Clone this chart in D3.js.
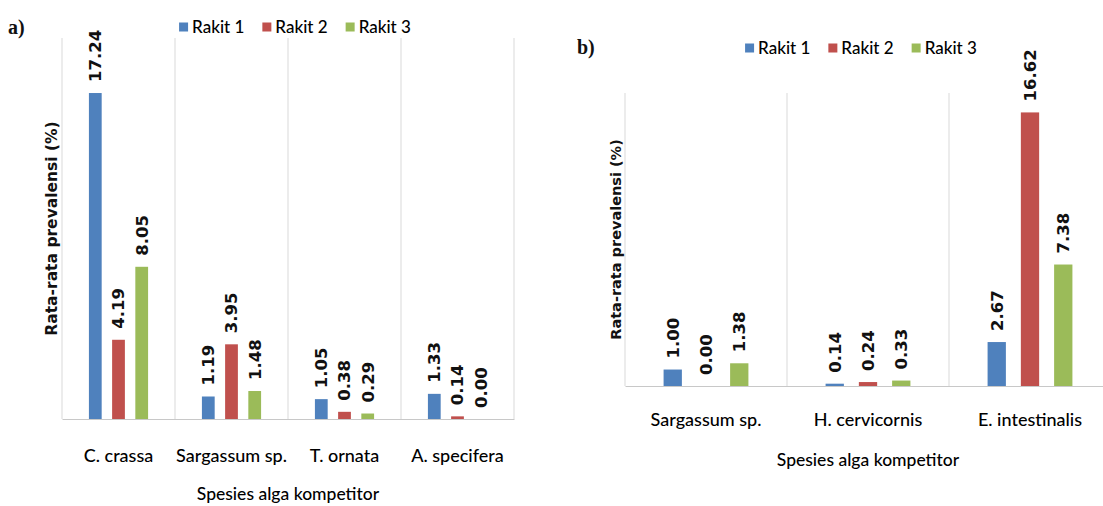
<!DOCTYPE html>
<html>
<head>
<meta charset="utf-8">
<script src="https://cdn.jsdelivr.net/npm/d3@7"></script>
<style>
  html, body { margin: 0; padding: 0; background: #ffffff; }
  svg { display: block; }
</style>
</head>
<body>
<svg id="chart" width="1103" height="506"></svg>
<script>
// ---------------- DATA ----------------
const seriesNames = ["Rakit 1", "Rakit 2", "Rakit 3"];

const categoriesA = ["C. crassa", "Sargassum sp.", "T. ornata", "A. specifera"];
const rakit1A = [17.24, 1.19, 1.05, 1.33];
const rakit2A = [4.19, 3.95, 0.38, 0.14];
const rakit3A = [8.05, 1.48, 0.29, 0.00];

const categoriesB = ["Sargassum sp.", "H. cervicornis", "E. intestinalis"];
const rakit1B = [1.00, 0.14, 2.67];
const rakit2B = [0.00, 0.24, 16.62];
const rakit3B = [1.38, 0.33, 7.38];

const panelLabels = ["a)", "b)"];
const yAxisTitle = "Rata-rata prevalensi (%)";
const xAxisTitle = "Spesies alga kompetitor";
const yMaxA = 20.15;
const yMaxB = 17.8;

// ---------------- STYLE ----------------
const colors = ["#4F81BD", "#C0504D", "#9BBB59"];
const gridColor = "#d9d9d9";
const axisColor = "#c8c8c8";
const labelFont = "'DejaVu Sans', Verdana, sans-serif";
const catFont = "Lato, 'Open Sans', sans-serif";

const svg = d3.select("#chart");

function drawPanel(cfg) {
  const g = svg.append("g");
  const x0 = d3.scaleBand().domain(cfg.categories).range([cfg.left, cfg.right]).padding(0);
  const x1 = d3.scaleBand().domain(seriesNames).range([0, x0.bandwidth()])
    .paddingInner(0.45).paddingOuter(1.16);
  const y = d3.scaleLinear().domain([0, cfg.yMax]).range([cfg.base, cfg.top]);

  // vertical gridlines at category boundaries
  const bounds = cfg.categories.map(c => x0(c)).concat([cfg.right]);
  g.selectAll("line.grid").data(bounds).join("line")
    .attr("x1", d => d).attr("x2", d => d)
    .attr("y1", y(0)).attr("y2", y(cfg.yMax))
    .attr("stroke", gridColor).attr("stroke-width", 1);

  // baseline axis
  const xAxis = d3.axisBottom(x0).tickSize(0).tickPadding(0).tickFormat("");
  const ax = g.append("g").attr("transform", `translate(0,${y(0)})`).call(xAxis);
  ax.select(".domain").attr("stroke", axisColor);

  // category labels
  g.selectAll("text.cat").data(cfg.categories).join("text")
    .attr("x", d => x0(d) + x0.bandwidth() / 2)
    .attr("y", cfg.catY)
    .attr("text-anchor", "middle")
    .attr("font-family", catFont).attr("font-size", cfg.catSize)
    .attr("font-weight", 500)
    .attr("fill", "#000")
    .text(d => d);

  // bars
  const rows = cfg.categories.map((c, i) => ({
    cat: c,
    vals: cfg.series.map((s, k) => ({ cat: c, name: seriesNames[k], v: s[i], k }))
  }));
  const grp = g.selectAll("g.cat").data(rows).join("g")
    .attr("transform", d => `translate(${x0(d.cat)},0)`);
  grp.selectAll("rect").data(d => d.vals).join("rect")
    .attr("x", d => x1(d.name))
    .attr("width", x1.bandwidth())
    .attr("y", d => y(d.v))
    .attr("height", d => y(0) - y(d.v))
    .attr("fill", d => colors[d.k]);

  // value labels (rotated)
  grp.selectAll("text.val").data(d => d.vals).join("text")
    .attr("class", "val")
    .attr("transform", d => `translate(${x1(d.name) + x1.bandwidth() / 2},${y(d.v) - cfg.labelGap}) rotate(-90)`)
    .attr("dy", "0.36em")
    .attr("text-anchor", "start")
    .attr("font-family", labelFont).attr("font-weight", "bold")
    .attr("font-size", cfg.valSize).attr("fill", "#111")
    .text(d => d.v.toFixed(2));

  // y title
  g.append("text")
    .attr("transform", `translate(${cfg.yTitleX},${(y(0) + y(cfg.yMax)) / 2}) rotate(-90)`)
    .attr("text-anchor", "middle").attr("dy", "0.36em")
    .attr("font-family", labelFont).attr("font-weight", "bold")
    .attr("font-size", cfg.yTitleSize).attr("fill", "#111")
    .text(yAxisTitle);

  // x title
  g.append("text")
    .attr("x", (cfg.left + cfg.right) / 2).attr("y", cfg.xTitleY)
    .attr("text-anchor", "middle")
    .attr("font-family", catFont).attr("font-size", cfg.xTitleSize)
    .attr("font-weight", 500)
    .attr("fill", "#000")
    .text(xAxisTitle);

  // legend
  const leg = g.append("g");
  const items = leg.selectAll("g").data(seriesNames).join("g");
  items.append("rect").attr("width", 9).attr("height", 9).attr("y", -4.5)
    .attr("fill", (d, i) => colors[i]);
  items.append("text").attr("x", 13).attr("dy", "0.36em")
    .attr("font-family", catFont).attr("font-size", cfg.legSize)
    .attr("font-weight", 500).attr("fill", "#000")
    .text(d => d);
  let cx = 0;
  items.each(function () {
    d3.select(this).attr("transform", `translate(${cx},0)`);
    cx += this.getBBox().width + 18;
  });
  const totalW = cx - 18;
  leg.attr("transform", `translate(${cfg.legCx - totalW / 2},${cfg.legY})`);

  // panel label
  g.append("text")
    .attr("x", cfg.pX).attr("y", cfg.pY)
    .attr("font-family", "'Liberation Serif', 'Times New Roman', serif")
    .attr("font-weight", "bold").attr("font-size", 20).attr("fill", "#111")
    .text(cfg.pLabel);
}

drawPanel({
  categories: categoriesA, series: [rakit1A, rakit2A, rakit3A], yMax: yMaxA,
  left: 62, right: 514, base: 419, top: 38,
  catY: 462, catSize: 18, xTitleY: 500, xTitleSize: 17.5,
  valSize: 16.5, labelGap: 11, yTitleX: 51, yTitleSize: 15.5,
  legCx: 295, legY: 27, legSize: 17,
  pLabel: panelLabels[0], pX: 8, pY: 34
});

drawPanel({
  categories: categoriesB, series: [rakit1B, rakit2B, rakit3B], yMax: yMaxB,
  left: 625, right: 1111, base: 386, top: 93,
  catY: 426, catSize: 18, xTitleY: 466, xTitleSize: 17.5,
  valSize: 16.5, labelGap: 11, yTitleX: 616, yTitleSize: 14.5,
  legCx: 861, legY: 48, legSize: 17,
  pLabel: panelLabels[1], pX: 577, pY: 54
});
</script>
</body>
</html>
